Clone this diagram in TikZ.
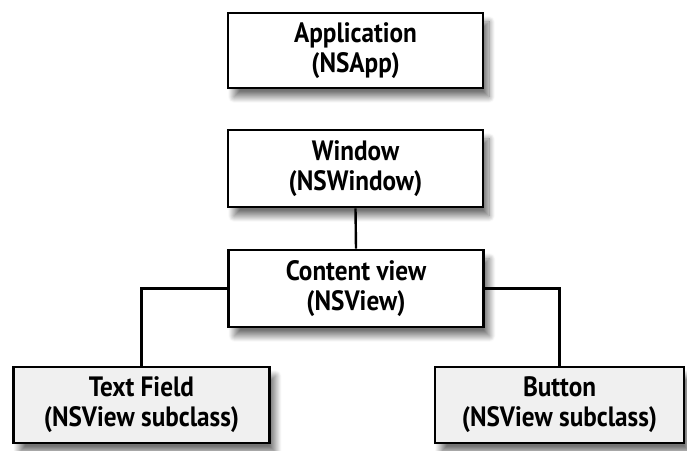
\documentclass[tikz,border=0pt]{standalone}
\usepackage{fontspec}
\newfontfamily\boxfont{PT Sans}[FakeStretch=0.9]
\usetikzlibrary{shadows.blur}
\tikzset{
  box/.style={draw=black, line width=2.6pt, fill=white, align=center,
    minimum width=255pt, minimum height=75pt, inner sep=0pt,
    font=\boxfont\bfseries\fontsize{28}{30}\selectfont,
    blur shadow={shadow xshift=6pt, shadow yshift=-9pt, shadow blur steps=12, shadow blur radius=6pt, shadow opacity=55}},
  subbox/.style={box, fill=boxgray, minimum width=256pt, minimum height=76pt},
  link/.style={draw=black, line width=2.4pt}
}
\definecolor{boxgray}{HTML}{F0F0F0}
\begin{document}
\begin{tikzpicture}[x=1pt,y=1pt]
\useasboundingbox (0,0) rectangle (687,450);
\node[box] (app) at (355.5,399.5) {Application\\(NSApp)};
\node[box, minimum height=77pt] (win) at (355.5,281.5) {Window\\(NSWindow)};
\node[box, minimum height=77pt] (content) at (356,161.5) {Content view\\(NSView)};
\node[subbox] (text) at (141.5,45) {Text Field\\(NSView subclass)};
\node[subbox, minimum width=249pt] (button) at (559.5,45) {Button\\(NSView subclass)};
\draw[link] (win.south) -- (content.north);
\draw[link] (content.west) -| (text.north);
\draw[link] (content.east) -| (button.north);
\end{tikzpicture}
\end{document}
